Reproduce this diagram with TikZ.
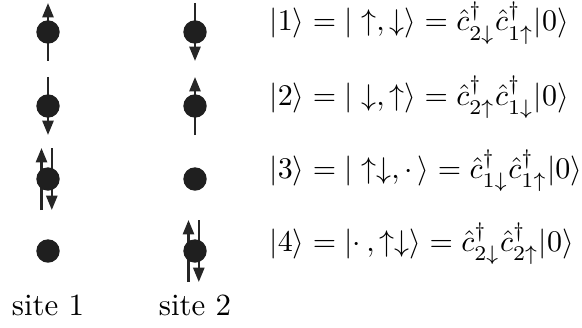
\documentclass[tikz,border=0pt]{standalone}
\usetikzlibrary{arrows.meta,calc}
\begin{document}
\begin{tikzpicture}[x=0.3333pt,y=-0.3333pt,
  ball/.style={circle,fill=black!88,minimum size=7.8pt,inner sep=0pt},
  spin/.style={line width=0.8pt,black!85},
  upspin/.style={spin,-{Triangle[length=4.8pt,width=3.7pt]}},
  downspin/.style={spin,-{Triangle[length=4.8pt,width=3.7pt]}},
  eq/.style={anchor=base west,inner sep=0pt,font=\fontsize{10.3}{12}\selectfont},
  lbl/.style={anchor=base,inner sep=0pt,font=\fontsize{10.3}{12}\selectfont}]
\useasboundingbox (0,0) rectangle (582,327);
\coordinate (c11) at (48,32);
\coordinate (c12) at (195,32);
\coordinate (c21) at (48,106);
\coordinate (c22) at (195,106);
\coordinate (c31) at (48,179);
\coordinate (c32) at (195,179);
\coordinate (c41) at (48,251);
\coordinate (c42) at (195,251);
% row 1
\draw[upspin] ($(c11)+(0,29)$) -- ($(c11)+(0,-29)$);
\draw[downspin] ($(c12)+(0,-29)$) -- ($(c12)+(0,29)$);
% row 2
\draw[downspin] ($(c21)+(0,-29)$) -- ($(c21)+(0,29)$);
\draw[upspin] ($(c22)+(0,29)$) -- ($(c22)+(0,-29)$);
% row 3 site 1 double
\draw[upspin] ($(c31)+(-6.5,31)$) -- ($(c31)+(-6.5,-31)$);
\draw[downspin] ($(c31)+(3.8,-31)$) -- ($(c31)+(3.8,31)$);
% row 4 site 2 double
\draw[upspin] ($(c42)+(-6.5,31)$) -- ($(c42)+(-6.5,-31)$);
\draw[downspin] ($(c42)+(3.8,-31)$) -- ($(c42)+(3.8,31)$);
% balls
\foreach \n in {11,12,21,22,31,32,41,42}{\node[ball] (b\n) at (c\n) {};}
% equations
\node[eq] (e1) at (269,31) {$|1\rangle = |\uparrow,\downarrow\rangle = \hat{c}^\dagger_{2\downarrow}\hat{c}^\dagger_{1\uparrow}|0\rangle$};
\node[eq] (e2) at (269,105) {$|2\rangle = |\downarrow,\uparrow\rangle = \hat{c}^\dagger_{2\uparrow}\hat{c}^\dagger_{1\downarrow}|0\rangle$};
\node[eq] (e3) at (269,178.5) {$|3\rangle = |\uparrow\downarrow,\cdot\,\rangle = \hat{c}^\dagger_{1\downarrow}\hat{c}^\dagger_{1\uparrow}|0\rangle$};
\node[eq] (e4) at (269,251.5) {$|4\rangle = |\cdot\,,\uparrow\downarrow\rangle = \hat{c}^\dagger_{2\downarrow}\hat{c}^\dagger_{2\uparrow}|0\rangle$};
% labels
\node[lbl] (s1) at (48,315) {site 1};
\node[lbl] (s2) at (195,315) {site 2};
\end{tikzpicture}
\end{document}
